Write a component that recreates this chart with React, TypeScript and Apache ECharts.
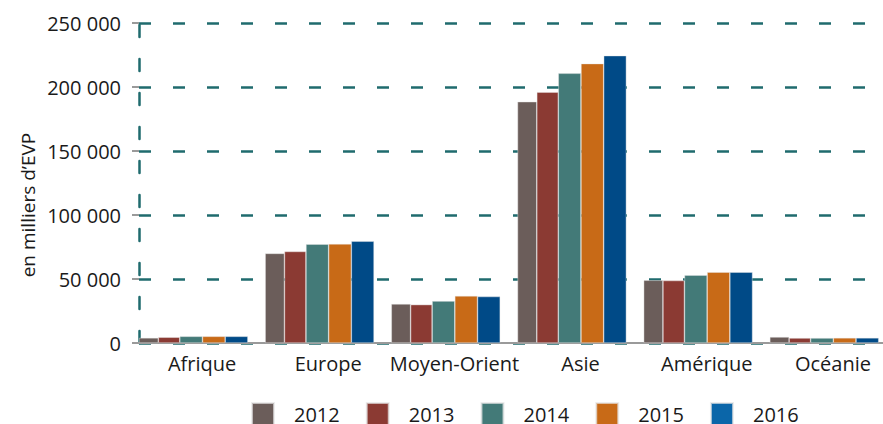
import React, { useEffect, useRef } from "react";
import * as echarts from "echarts";

const categories = ["Afrique", "Europe", "Moyen-Orient", "Asie", "Amérique", "Océanie"];
const years = ["2012", "2013", "2014", "2015", "2016"];
const v2012 = [4000, 70000, 30500, 188500, 49000, 4700];
const v2013 = [4500, 71500, 30000, 196000, 48800, 3900];
const v2014 = [5200, 77200, 32800, 210700, 53000, 3900];
const v2015 = [5200, 77400, 36800, 218300, 55300, 4000];
const v2016 = [5200, 79500, 36300, 224500, 55300, 4000];
const seriesValues = [v2012, v2013, v2014, v2015, v2016];
const yTicks = [0, 50000, 100000, 150000, 200000, 250000];

const colors = ["#6b5d5a", "#8b3a33", "#437a78", "#c86a17", "#004a87"];
const legendColors = ["#6b5d5a", "#8b3a33", "#437a78", "#c86a17", "#0b66a9"];
const barWidths = [19.3, 21.5, 22.7, 22.7, 22.7];
const FONT = "Open Sans";

function fmt(v: number) {
  return String(v).replace(/\B(?=(\d{3})+(?!\d))/g, " ");
}

export default function App() {
  const ref = useRef<HTMLDivElement>(null);
  useEffect(() => {
    if (!ref.current) return;
    const chart = echarts.init(ref.current, undefined, { renderer: "svg" });
    const series: any[] = years.map((y, i) => ({
      name: y,
      type: "bar",
      data: seriesValues[i],
      barWidth: barWidths[i],
      barGap: "0%",
      itemStyle: { color: colors[i], borderColor: "rgba(230,230,230,0.7)", borderWidth: 0.6 },
    }));
    series.push({
      name: "spacer",
      type: "bar",
      data: [],
      barWidth: 17.3,
      barGap: "0%",
      silent: true,
    });
    chart.setOption({
      animation: false,
      textStyle: { fontFamily: FONT },
      grid: { left: 139, right: 0, top: 23, bottom: 81, containLabel: false },
      legend: {
        left: 251,
        top: 402,
        padding: 0,
        itemWidth: 22,
        itemHeight: 22,
        itemGap: 26,
        icon: "rect",
        data: years.map((y, i) => ({ name: y, itemStyle: { color: legendColors[i] } })),
        textStyle: { fontSize: 20, color: "#1a1a1a", fontFamily: FONT, padding: [9, 0, 0, 15] },
      },
      graphic: [
        {
          type: "text",
          x: 28,
          y: 205,
          rotation: Math.PI / 2,
          style: {
            text: "en milliers d\u2019EVP",
            fontSize: 19,
            fontFamily: FONT,
            fill: "#1a1a1a",
            align: "center",
            verticalAlign: "middle",
          },
        },
      ],
      xAxis: {
        type: "category",
        data: categories,
        axisLine: { lineStyle: { color: "#9a9a9a", width: 2 } },
        axisTick: { length: 7, lineStyle: { color: "#9a9a9a", width: 2 } },
        axisLabel: { fontSize: 20, color: "#1a1a1a", margin: 10, interval: 0, fontFamily: FONT },
      },
      yAxis: {
        type: "value",
        min: yTicks[0],
        max: yTicks[yTicks.length - 1],
        interval: 50000,
        axisLine: {
          show: true,
          lineStyle: { color: "#1f6b6e", width: 2.5, type: [12, 22] },
        },
        axisTick: {
          show: true,
          inside: false,
          length: 7,
          lineStyle: { color: "#9a9a9a", width: 2 },
        },
        axisLabel: {
          fontSize: 20,
          color: "#1a1a1a",
          margin: 18,
          fontFamily: FONT,
          formatter: (v: number) => fmt(v),
        },
        splitLine: {
          show: true,
          lineStyle: { color: "#1f6b6e", width: 2.5, type: [12, 22] },
        },
      },
      series,
    });
    return () => chart.dispose();
  }, []);
  return (
    <div style={{ position: "fixed", left: 0, top: 0, width: 883, height: 424, overflow: "hidden", background: "#fff" }}>
      <div ref={ref} style={{ width: 896, height: 424 }} />
    </div>
  );
}
